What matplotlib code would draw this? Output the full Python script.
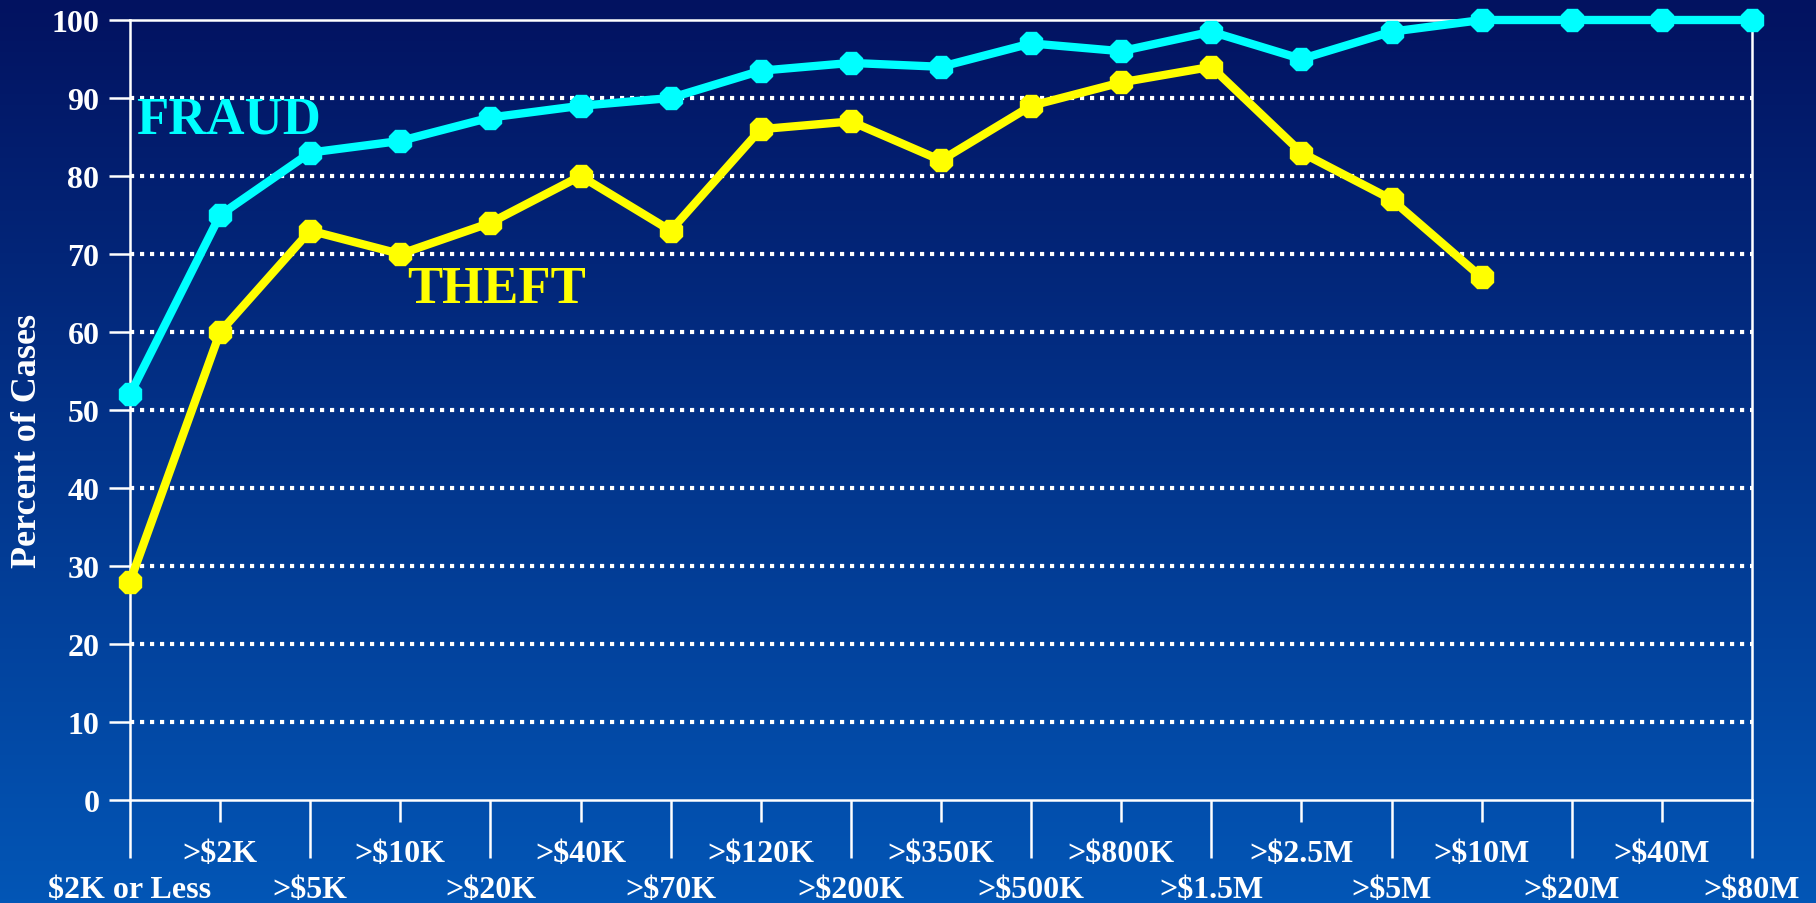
import numpy as np
import matplotlib
matplotlib.use('Agg')
import matplotlib.pyplot as plt
from matplotlib.ticker import FixedLocator, FixedFormatter

categories = ["$2K or Less", ">$2K", ">$5K", ">$10K", ">$20K", ">$40K", ">$70K",
              ">$120K", ">$200K", ">$350K", ">$500K", ">$800K", ">$1.5M",
              ">$2.5M", ">$5M", ">$10M", ">$20M", ">$40M", ">$80M"]
fraud = [52, 75, 83, 84.5, 87.5, 89, 90, 93.5, 94.5, 94, 97, 96, 98.5,
         95, 98.5, 100, 100, 100, 100]
theft = [28, 60, 73, 70, 74, 80, 73, 86, 87, 82, 89, 92, 94, 83, 77, 67]
grid_levels = [10, 20, 30, 40, 50, 60, 70, 80, 90]

plt.rcParams['font.family'] = ['Liberation Serif', 'DejaVu Serif']
plt.rcParams['font.weight'] = 'bold'

fig = plt.figure(figsize=(18.16, 9.04), dpi=100)

# background gradient, dark navy at top to brighter blue at bottom
bg = fig.add_axes([0, 0, 1, 1], zorder=0)
top = np.array([2, 18, 96]) / 255
bottom = np.array([2, 86, 182]) / 255
t = np.linspace(0, 1, 256)[:, None]
grad = (top[None, :] * (1 - t) + bottom[None, :] * t)[:, None, :]
bg.imshow(grad, aspect='auto', extent=[0, 1, 0, 1])
bg.set_axis_off()

ax = fig.add_axes([130 / 1816, 1 - 801 / 904, (1752 - 130) / 1816, (801 - 21) / 904], zorder=1)
ax.set_facecolor('none')
ax.set_xlim(0, len(categories) - 1)
ax.set_ylim(0, 100)

for s in ax.spines.values():
    s.set_color('white')
    s.set_linewidth(1.8)

ax.hlines(grid_levels, 0, len(categories) - 1, colors='white', linewidth=3,
          linestyles=(0, (1.0, 1.4)), zorder=1)

x = np.arange(len(categories))
ax.plot(x, fraud, color='#00FFFF', linewidth=6, marker='8', markersize=17,
        clip_on=False, zorder=3)
ax.plot(x[:len(theft)], theft, color='#FFFF00', linewidth=6, marker='8',
        markersize=17, clip_on=False, zorder=3)

ax.text(0.07, 87.3, 'FRAUD', color='#00FFFF', fontsize=38, fontweight='bold',
        ha='left', va='center')
ax.text(3.08, 65.5, 'THEFT', color='#FFFF00', fontsize=38, fontweight='bold',
        ha='left', va='center')

# y axis
ax.set_yticks(range(0, 101, 10))
ax.tick_params(axis='y', colors='white', length=15, width=1.8, pad=7, labelsize=23)
ax.set_ylabel('Percent of Cases', color='white', fontsize=26, fontweight='bold')
ax.yaxis.set_label_coords((44 - 130) / 1622, (801 - 441) / 780)

# x axis: long ticks with lower labels, short ticks with upper labels
major = list(range(0, len(categories), 2))
minor = list(range(1, len(categories), 2))
ax.xaxis.set_major_locator(FixedLocator(major))
ax.xaxis.set_major_formatter(FixedFormatter([categories[i] for i in major]))
ax.xaxis.set_minor_locator(FixedLocator(minor))
ax.xaxis.set_minor_formatter(FixedFormatter([categories[i] for i in minor]))
ax.tick_params(axis='x', which='major', colors='white', length=42, width=1.8,
               pad=12, labelsize=23)
ax.tick_params(axis='x', which='minor', colors='white', length=16, width=1.8,
               pad=12, labelsize=23)

fig.savefig('out.png', dpi=100)
